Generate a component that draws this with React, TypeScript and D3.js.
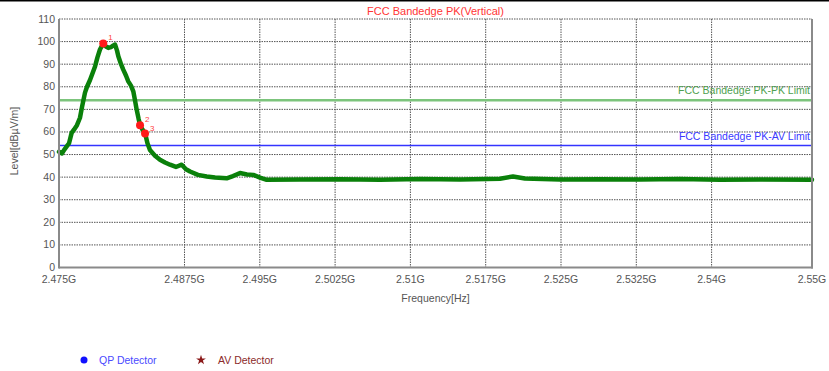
import React from "react";
import * as d3 from "d3";

const freqs = [
  2.475, 2.4753, 2.4755, 2.47577, 2.476, 2.47626, 2.47649, 2.47679, 2.47709, 2.47729,
  2.47759, 2.47779, 2.47809, 2.47834, 2.47859, 2.47883, 2.47908, 2.47941, 2.47968, 2.47991,
  2.48018, 2.48038, 2.48058, 2.48078, 2.48091, 2.48118, 2.4814, 2.48167, 2.4819, 2.48217,
  2.4824, 2.48257, 2.48274, 2.48292, 2.48307, 2.48332, 2.48357, 2.48381, 2.48406, 2.48456,
  2.48506, 2.48556, 2.48606, 2.48665, 2.48722, 2.48765, 2.48805, 2.48884, 2.48971, 2.49054,
  2.4917, 2.49233, 2.49303, 2.49372, 2.49435, 2.49502, 2.49569, 2.499, 2.50299, 2.50697,
  2.51096, 2.51494, 2.51892, 2.52022, 2.52141, 2.5249, 2.52888, 2.53287, 2.53685, 2.54084,
  2.54482, 2.55,
];
const levels = [
  51.2, 50.5, 52, 53.6, 55, 59.6, 61, 63, 66.3, 71,
  77.4, 80, 83, 86, 89, 93, 96.5, 99.2, 97.8, 97.2,
  97.6, 98.2, 98.7, 96, 93.5, 90, 87.6, 85, 82.4, 80.5,
  78, 74, 69.8, 66, 63.2, 61, 59.5, 55, 52, 49.5,
  47.7, 46.5, 45.5, 44.5, 45.5, 43.5, 42.5, 41, 40.3, 39.8,
  39.5, 40.5, 41.8, 41.2, 41, 39.8, 38.8, 38.9, 39.1, 38.8,
  39.2, 38.9, 39.3, 40.3, 39.4, 38.9, 39.1, 38.9, 39.2, 38.8,
  39.0, 38.8,
];

const xTicks = [2.475, 2.4875, 2.495, 2.5025, 2.51, 2.5175, 2.525, 2.5325, 2.54, 2.55];
const xTickLabels = ["2.475G", "2.4875G", "2.495G", "2.5025G", "2.51G", "2.5175G", "2.525G", "2.5325G", "2.54G", "2.55G"];
const yTicks = [0, 10, 20, 30, 40, 50, 60, 70, 80, 90, 100, 110];

const markerFreqs = [2.47941, 2.48307, 2.48357];
const markerLevels = [99.2, 63.0, 59.3];
const markerLabels = ["1", "2", "3"];

const limitValues = [74, 54];
const limitLabels = ["FCC Bandedge PK-PK Limit", "FCC Bandedge PK-AV Limit"];
const limitColors = ["#7cc47c", "#3434ff"];
const limitTextColors = ["#4f9f4f", "#3a3aff"];

const legendLabels = ["QP Detector", "AV Detector"];

const FONT = "'Liberation Sans', Arial, sans-serif";

export default function App() {
  const W = 829, H = 371;
  const left = 59, right = 812, top = 19, bottom = 267.5;
  const x = d3.scaleLinear().domain([2.475, 2.55]).range([left, right]);
  const y = d3.scaleLinear().domain([0, 110]).range([bottom, top]);
  const line = d3.line<number>().x((_, i) => x(freqs[i])).y((d) => y(d)).curve(d3.curveLinear);
  const path = line(levels) || "";
  const star = d3.symbol().type(d3.symbolStar).size(30)() || "";

  return (
    <svg width={W} height={H} style={{ position: "absolute", left: 0, top: 0, background: "#fff" }}>
      <rect x={0} y={0} width={W} height={1.5} fill="#000" />
      <text x={(left + right) / 2} y={15} textAnchor="middle" fontFamily={FONT} fontSize={11} fill="#ff3535">
        FCC Bandedge PK(Vertical)
      </text>
      {yTicks.filter((t) => t > 0).map((t) => (
        <line key={"gy" + t} x1={left} x2={right} y1={y(t)} y2={y(t)} stroke="#555" strokeWidth={1} strokeDasharray="1.5,1" />
      ))}
      {xTicks.slice(1, -1).map((t) => (
        <line key={"gx" + t} x1={x(t)} x2={x(t)} y1={top} y2={bottom} stroke="#555" strokeWidth={1} strokeDasharray="1.5,1" />
      ))}
      {limitValues.map((v, i) => (
        <g key={"lim" + i}>
          <line x1={left} x2={right} y1={y(v)} y2={y(v)} stroke={limitColors[i]} strokeWidth={i === 0 ? 2.5 : 1.5} />
          <text x={right - 2} y={y(v) - 6} textAnchor="end" fontFamily={FONT} fontSize={10.5} fill={limitTextColors[i]}>
            {limitLabels[i]}
          </text>
        </g>
      ))}
      <path d={path} fill="none" stroke="#0a800a" strokeWidth={4.5} strokeLinejoin="round" strokeLinecap="round" />
      {markerFreqs.map((f, i) => (
        <g key={"m" + i}>
          <circle cx={x(f)} cy={y(markerLevels[i])} r={4} fill="#ff1a1a" />
          <text x={x(f) + 5} y={y(markerLevels[i]) - 3} fontFamily={FONT} fontSize={8} fill="#ff4040">
            {markerLabels[i]}
          </text>
        </g>
      ))}
      <line x1={left} x2={left} y1={top} y2={bottom + 1} stroke="#8a8a8a" strokeWidth={2} />
      <line x1={left} x2={right + 1} y1={bottom} y2={bottom} stroke="#8a8a8a" strokeWidth={2} />
      <line x1={right} x2={right} y1={top} y2={bottom + 1} stroke="#8a8a8a" strokeWidth={2} />
      {yTicks.map((t) => (
        <text key={"yl" + t} x={left - 4} y={y(t) + 3.5} textAnchor="end" fontFamily={FONT} fontSize={10.5} fill="#555">
          {t}
        </text>
      ))}
      {xTicks.map((t, i) => (
        <text key={"xl" + t} x={x(t)} y={283} textAnchor="middle" fontFamily={FONT} fontSize={10.5} fill="#555">
          {xTickLabels[i]}
        </text>
      ))}
      <text x={(left + right) / 2} y={302} textAnchor="middle" fontFamily={FONT} fontSize={10.5} fill="#555">
        Frequency[Hz]
      </text>
      <text transform={`translate(18,${141}) rotate(-90)`} textAnchor="middle" fontFamily={FONT} fontSize={10.5} fill="#555">
        Level[dBµV/m]
      </text>
      <circle cx={84} cy={360} r={3.5} fill="#1010ff" />
      <text x={99} y={363.5} fontFamily={FONT} fontSize={10.5} fill="#4a4aff">{legendLabels[0]}</text>
      <path d={star} transform="translate(201,360)" fill="#8b1a1a" />
      <text x={218} y={363.5} fontFamily={FONT} fontSize={10.5} fill="#8b2a2a">{legendLabels[1]}</text>
    </svg>
  );
}
